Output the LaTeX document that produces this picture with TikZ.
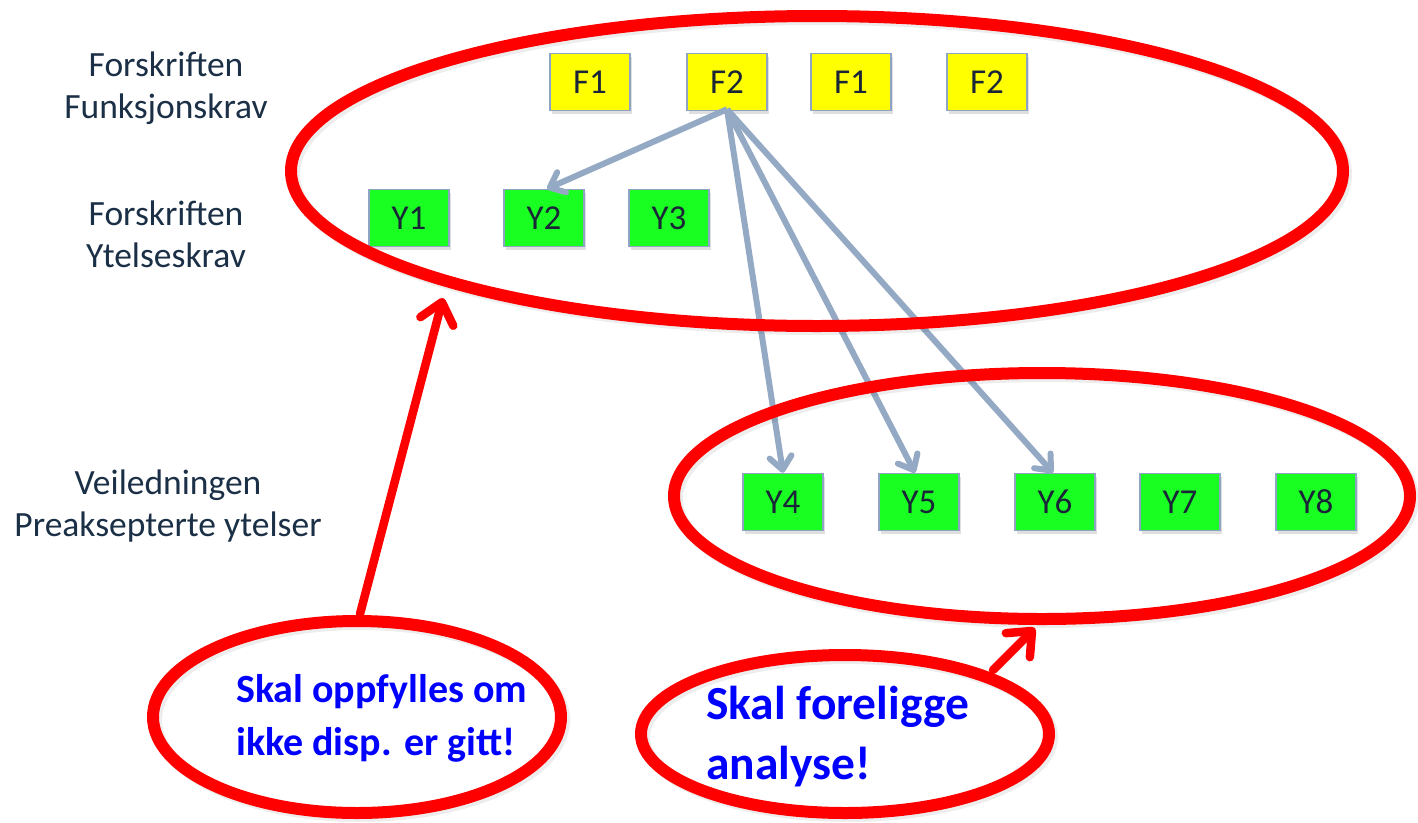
\documentclass[tikz,border=0pt]{standalone}
\usepackage{fontspec}
\setmainfont{Carlito}
\usetikzlibrary{arrows.meta,shadows}
\definecolor{lbl}{HTML}{1B3046}
\definecolor{boxtxt}{HTML}{1A2638}
\definecolor{boxline}{HTML}{8FA3C4}
\definecolor{yel}{HTML}{FFFF00}
\definecolor{grn}{HTML}{19FF22}
\definecolor{conncol}{HTML}{94A9C4}
\definecolor{redl}{HTML}{FF0000}
\definecolor{bluetxt}{HTML}{0000FF}
\tikzset{
  lbltext/.style={text=lbl, align=center, font=\fontsize{35.5}{42}\selectfont, inner sep=0pt},
  reqbox/.style={draw=boxline, line width=1.5pt, minimum width=80pt, minimum height=57pt, inner sep=0pt,
    text=boxtxt, font=\fontsize{35}{40}\selectfont,
    drop shadow={shadow xshift=2pt, shadow yshift=-3pt, opacity=0.25}},
  fbox/.style={reqbox, fill=yel},
  ybox/.style={reqbox, fill=grn},
  connline/.style={draw=conncol, line width=6pt, -{Straight Barb[length=13pt,width=22pt,round]}},
  ring/.style={draw=redl, line width=12pt},
  ringshadow/.style={draw=black, line width=12pt, opacity=0.07},
  redarrow/.style={draw=redl, line width=8.5pt, line cap=round, -{Straight Barb[length=20pt,width=34pt,round]}},
  note/.style={text=bluetxt, font=\bfseries, inner sep=0pt}
}
\begin{document}
\begin{tikzpicture}[x=1pt,y=-1pt]
\useasboundingbox (0,0) rectangle (1418,822);
\fill[white] (0,0) rectangle (1418,822);

% left labels
\node[lbltext] (l1) at (166,88) {Forskriften\\Funksjonskrav};
\node[lbltext] (l2) at (166,234) {Forskriften\\Ytelseskrav};
\node[lbltext] (l3) at (168,506) {Veiledningen\\Preaksepterte ytelser};

% yellow boxes
\node[fbox] (f1a) at (590,82) {F1};
\node[fbox] (f2a) at (727,82) {F2};
\node[fbox] (f1b) at (851,82) {F1};
\node[fbox] (f2b) at (987,82) {F2};

% green boxes
\node[ybox] (y1) at (409,218) {Y1};
\node[ybox] (y2) at (544,218) {Y2};
\node[ybox] (y3) at (669,218) {Y3};
\node[ybox] (y4) at (783,502) {Y4};
\node[ybox] (y5) at (919,502) {Y5};
\node[ybox] (y6) at (1055,502) {Y6};
\node[ybox] (y7) at (1180,502) {Y7};
\node[ybox] (y8) at (1316,502) {Y8};

% connectors
\coordinate (src) at ([yshift=2pt]f2a.south);
\draw[connline] (src) -- ([xshift=3pt]y2.north);
\draw[connline] (src) -- (y4.north);
\draw[connline] (src) -- ([xshift=-4pt]y5.north);
\draw[connline] (src) -- ([xshift=-2pt]y6.north);

% red ellipses (with faint shadows)
\draw[ringshadow] (820,174) ellipse [x radius=526, y radius=155];
\draw[ring] (817,171) ellipse [x radius=526, y radius=155];
\draw[ringshadow] (1045,499) ellipse [x radius=368, y radius=123];
\draw[ring] (1042,496) ellipse [x radius=368, y radius=123];
\draw[ringshadow] (360,720) ellipse [x radius=204, y radius=96];
\draw[ring] (357,717) ellipse [x radius=204, y radius=96];
\draw[ringshadow] (848,737) ellipse [x radius=204, y radius=79];
\draw[ring] (845,734) ellipse [x radius=204, y radius=79];

% notes
\node[note, align=left, anchor=north west, font=\bfseries\fontsize{40}{53}\selectfont] (n1) at (236,674)
  {Skal oppfylles om\\ikke disp. er gitt!};
\node[note, align=left, anchor=north west, font=\bfseries\fontsize{47.5}{60}\selectfont] (n2) at (706,686)
  {Skal foreligge\\analyse!};

% red arrows
\coordinate (t1) at (360,614);
\coordinate (h1) at (443,298);
\coordinate (t2) at (993,670);
\coordinate (h2) at (1035,628);
\draw[redarrow] (t1) -- (h1);
\draw[redarrow] (t2) -- (h2);
\end{tikzpicture}
\end{document}
